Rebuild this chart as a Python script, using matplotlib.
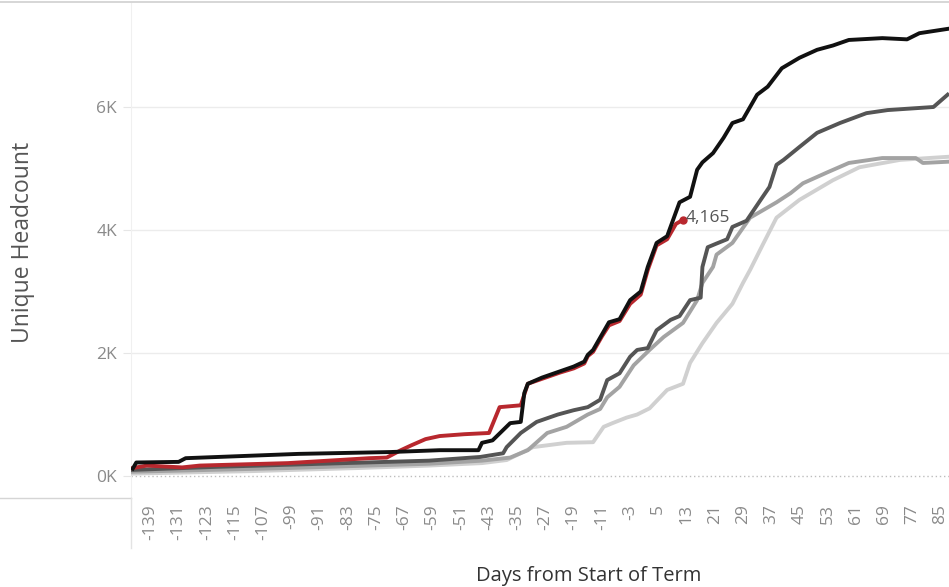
import matplotlib
matplotlib.use("Agg")
import matplotlib.pyplot as plt
from matplotlib.ticker import FuncFormatter, FixedLocator

plt.rcParams['font.family'] = ['Open Sans', 'DejaVu Sans']

# days from start of term / unique headcount
black_days = [-144, -143, -131, -129, -97, -71, -57, -46, -45, -42, -37, -34, -33, -32, -28, -23, -19, -16,
              -15, -13.5, -11, -9, -6, -3, 0, 2, 4.5, 7.5, 11, 14, 16, 17.5, 20.5, 23.5, 26, 29, 33, 36,
              40, 45, 50, 54.5, 59, 68.5, 75.5, 79, 87]
black_vals = [120, 220, 230, 290, 360, 390, 420, 420, 540, 580, 860, 880, 1350, 1500, 1600, 1700, 1780, 1860,
              1970, 2050, 2300, 2500, 2550, 2860, 3000, 3400, 3790, 3900, 4450, 4540, 4980, 5100, 5250, 5500,
              5740, 5800, 6200, 6330, 6630, 6800, 6930, 7000, 7090, 7120, 7100, 7200, 7270]

red_days = [-144, -140, -130, -125, -100, -77, -72, -68, -65, -61, -57, -50, -43, -40, -34, -32, -28, -23,
            -19, -16, -15, -13.5, -11, -9, -6, -3, 0, 2, 4.5, 7.5, 10, 12]
red_vals = [130, 170, 140, 170, 210, 290, 300, 420, 500, 600, 650, 680, 700, 1120, 1150, 1500, 1580, 1680,
            1750, 1830, 1950, 2020, 2270, 2450, 2520, 2800, 2950, 3350, 3750, 3850, 4100, 4165]

dark_days = [-144, -120, -90, -60, -45.5, -39, -38, -34, -29.5, -23.5, -19, -15, -11.5, -9.5, -6, -3, -1,
             2, 4.5, 8.5, 11, 14, 17, 17.5, 19, 21.5, 24.5, 26, 30, 34, 36.5, 38.5, 40.5, 45, 50, 56.5, 64,
             70, 83, 87]
dark_vals = [100, 150, 200, 250, 310, 370, 470, 700, 880, 1000, 1070, 1120, 1240, 1560, 1670, 1940, 2050,
             2080, 2370, 2540, 2600, 2860, 2900, 3400, 3720, 3780, 3850, 4050, 4150, 4490, 4700, 5060, 5140,
             5350, 5580, 5740, 5900, 5950, 6000, 6200]

mid_days = [-144, -100, -60, -45, -37, -32, -26.5, -21, -15, -11.5, -9.5, -6, -2, 2.5, 6.5, 12, 16, 17.5,
            20.5, 21.5, 26, 31, 38.5, 42.5, 46, 53, 59, 68.5, 78, 80, 87]
mid_vals = [70, 130, 200, 250, 300, 420, 700, 800, 1000, 1090, 1280, 1450, 1800, 2050, 2260, 2490, 2860,
            3140, 3400, 3600, 3790, 4200, 4450, 4600, 4760, 4940, 5090, 5170, 5170, 5090, 5110]

light_days = [-144, -110, -80, -60, -45, -38, -30.5, -21, -13.5, -10.5, -8, -4, -1, 2.5, 7.5, 12, 14, 17.5,
              21.5, 26, 29, 31, 34.5, 38.5, 45, 54.5, 62, 73.5, 87]
light_vals = [40, 80, 130, 170, 210, 260, 470, 540, 550, 800, 860, 950, 1000, 1100, 1400, 1500, 1840, 2160,
              2490, 2800, 3140, 3350, 3750, 4200, 4490, 4810, 5020, 5140, 5190]

tick_days = list(range(-139, 86, 8))
y_ticks = [0, 2000, 4000, 6000]

fig = plt.figure(figsize=(9.49, 5.87), dpi=100)
ax = fig.add_axes([131 / 949, 1 - 497 / 587, 818 / 949, 494 / 587])

lw = 2.8
ax.plot(light_days, light_vals, color='#d0d0d0', lw=lw, solid_joinstyle='round', zorder=3)
ax.plot(mid_days, mid_vals, color='#a3a3a3', lw=lw, solid_joinstyle='round', zorder=4)
ax.plot(dark_days, dark_vals, color='#555555', lw=lw, solid_joinstyle='round', zorder=5)
ax.plot(red_days, red_vals, color='#b8282e', lw=lw, solid_joinstyle='round', zorder=6)
ax.plot(black_days, black_vals, color='#111111', lw=lw, solid_joinstyle='round', zorder=7)
ax.plot(red_days[-1], red_vals[-1], 'o', color='#b8282e', ms=5, zorder=8)
ax.annotate(f'{red_vals[-1]:,}', (red_days[-1], red_vals[-1]), xytext=(2, 1), textcoords='offset points',
            va='center', ha='left', fontsize=12.5, color='#555555', zorder=9)

ax.set_xlim(-144.5, 87.4)
ax.set_ylim(-341, 7691)

ax.yaxis.set_major_locator(FixedLocator(y_ticks))
ax.yaxis.set_major_formatter(FuncFormatter(lambda v, p: f'{int(v / 1000)}K'))
ax.set_xticks(tick_days)
ax.set_xticklabels([str(d) for d in tick_days], rotation=90, va='top', ha='center')

ax.tick_params(axis='y', length=6, color='#e6e6e6', labelsize=12.5, labelcolor='#8a8a8a', pad=4)
ax.tick_params(axis='x', length=0, labelsize=12.5, labelcolor='#8a8a8a', pad=5)

for v in y_ticks[1:]:
    ax.axhline(v, color='#ececec', lw=1, zorder=1)
ax.axhline(0, color='#bdbdbd', lw=1, ls=(0, (1, 2)), zorder=2)

for s in ['top', 'right', 'bottom']:
    ax.spines[s].set_visible(False)
ax.spines['left'].set_color('#f0f0f0')

fig.text(23 / 949, 1 - 242 / 587, 'Unique Headcount', rotation=90, ha='center', va='center',
         fontsize=16.5, color='#555555')
fig.text(589 / 949, 1 - 576 / 587, 'Days from Start of Term', ha='center', va='center',
         fontsize=14.5, color='#333333')

# outer borders like the dashboard panes
fig.add_artist(plt.Line2D([0, 1], [1 - 2 / 587, 1 - 2 / 587], color='#cfcfcf', lw=1.2))
fig.add_artist(plt.Line2D([0, 131 / 949], [1 - 498 / 587, 1 - 498 / 587], color='#d5d5d5', lw=1))
fig.add_artist(plt.Line2D([131 / 949, 131 / 949], [1 - 548 / 587, 1 - 498 / 587], color='#e3e3e3', lw=1))

fig.savefig('out.png', dpi=100)
